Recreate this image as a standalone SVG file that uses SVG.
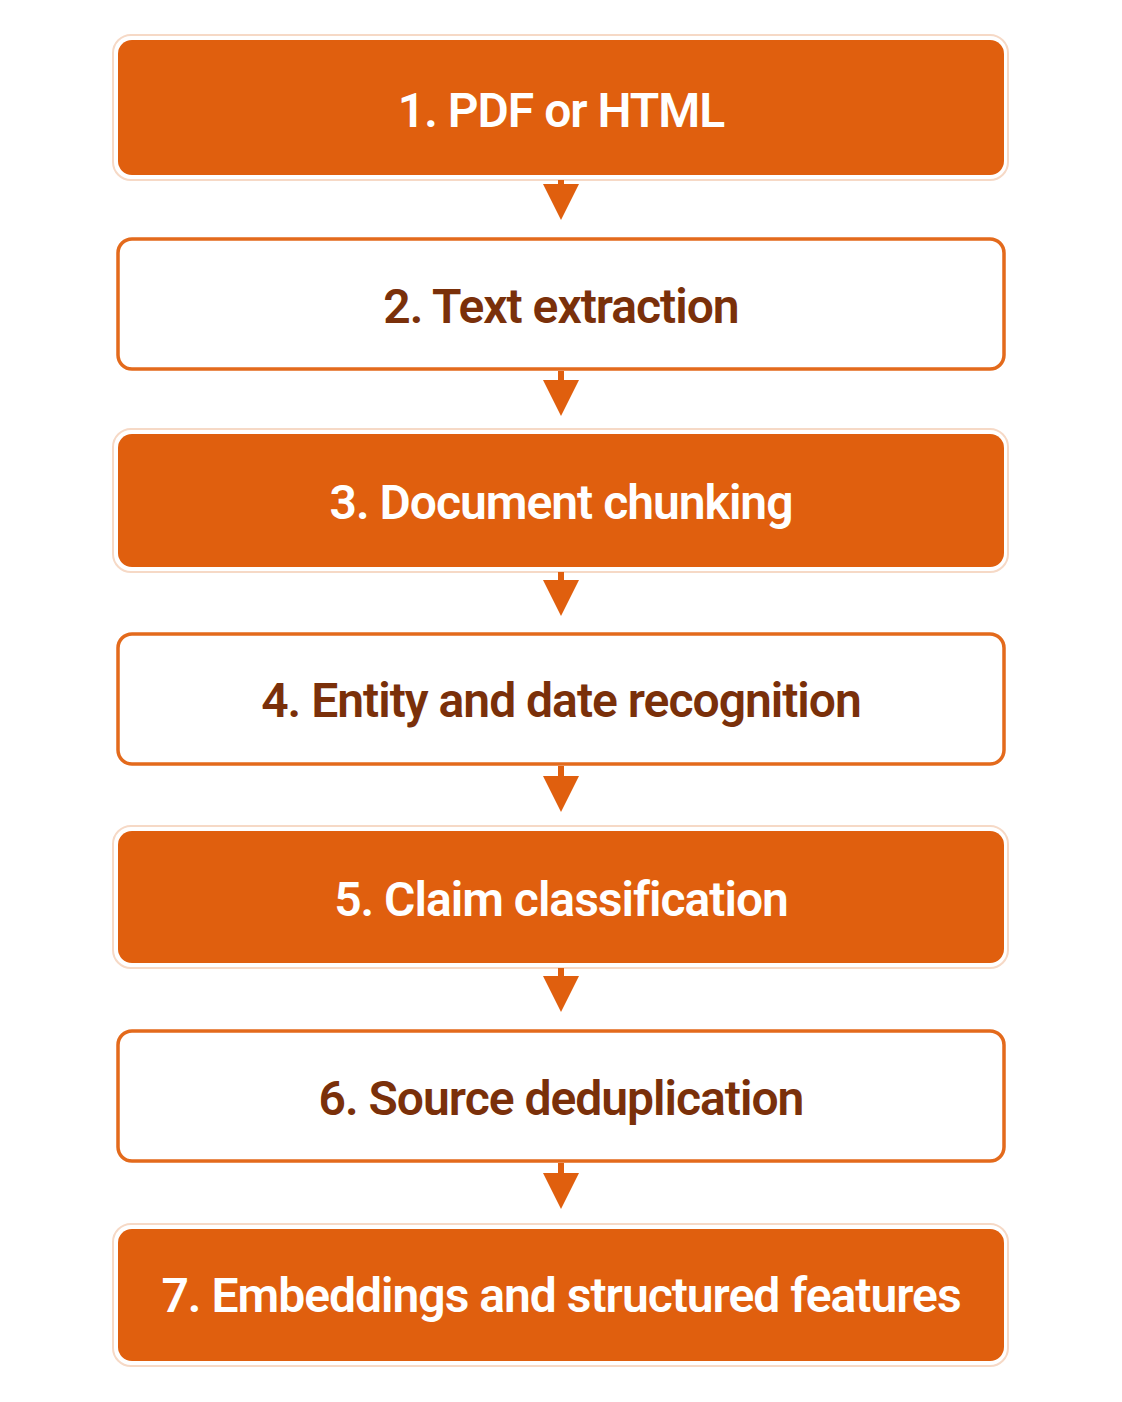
<svg xmlns="http://www.w3.org/2000/svg" width="1122" height="1402" viewBox="0 0 1122 1402">
<style>
.f{fill:#E05F0E}
.halo{fill:none;stroke:#F6D9C6;stroke-width:2}
.w{fill:#fff;stroke:#E36A1C;stroke-width:3.5}
text{font-family:Roboto,"Liberation Sans",sans-serif;font-weight:600;font-size:48px;text-anchor:middle;letter-spacing:-1px}
.tw{fill:#fff}
.tb{fill:#7A300A}
.c{stroke:#E05F0E;stroke-width:6;fill:none}
</style>
<defs><marker id="ah" markerWidth="8" markerHeight="6" refX="4" refY="3" orient="auto" markerUnits="strokeWidth"><path d="M0,0L6,3L0,6Z" fill="#E05F0E"/></marker></defs>
<rect width="1122" height="1402" fill="#fff"/>
<g id="n1"><rect class="halo" x="113" y="35" width="895" height="145" rx="18"/><rect class="f" x="118" y="40" width="886" height="135" rx="14"/><text class="tw" x="561" y="127">1. PDF or HTML</text></g>
<g id="n2"><rect class="w" x="118" y="239" width="886" height="130" rx="14"/><text class="tb" x="561" y="323">2. Text extraction</text></g>
<g id="n3"><rect class="halo" x="113" y="429" width="895" height="143" rx="18"/><rect class="f" x="118" y="434" width="886" height="133" rx="14"/><text class="tw" x="561" y="519">3. Document chunking</text></g>
<g id="n4"><rect class="w" x="118" y="634" width="886" height="130" rx="14"/><text class="tb" x="561" y="717">4. Entity and date recognition</text></g>
<g id="n5"><rect class="halo" x="113" y="826" width="895" height="142" rx="18"/><rect class="f" x="118" y="831" width="886" height="132" rx="14"/><text class="tw" x="561" y="916">5. Claim classification</text></g>
<g id="n6"><rect class="w" x="118" y="1031" width="886" height="130" rx="14"/><text class="tb" x="561" y="1115">6. Source deduplication</text></g>
<g id="n7"><rect class="halo" x="113" y="1224" width="895" height="142" rx="18"/><rect class="f" x="118" y="1229" width="886" height="132" rx="14"/><text class="tw" x="561" y="1312">7. Embeddings and structured features</text></g>
<g id="connectors">
<line class="c" x1="561" y1="180" x2="561" y2="208" marker-end="url(#ah)"/>
<line class="c" x1="561" y1="371" x2="561" y2="404" marker-end="url(#ah)"/>
<line class="c" x1="561" y1="572" x2="561" y2="604" marker-end="url(#ah)"/>
<line class="c" x1="561" y1="766" x2="561" y2="800" marker-end="url(#ah)"/>
<line class="c" x1="561" y1="968" x2="561" y2="1000" marker-end="url(#ah)"/>
<line class="c" x1="561" y1="1163" x2="561" y2="1197" marker-end="url(#ah)"/>
</g>
</svg>
